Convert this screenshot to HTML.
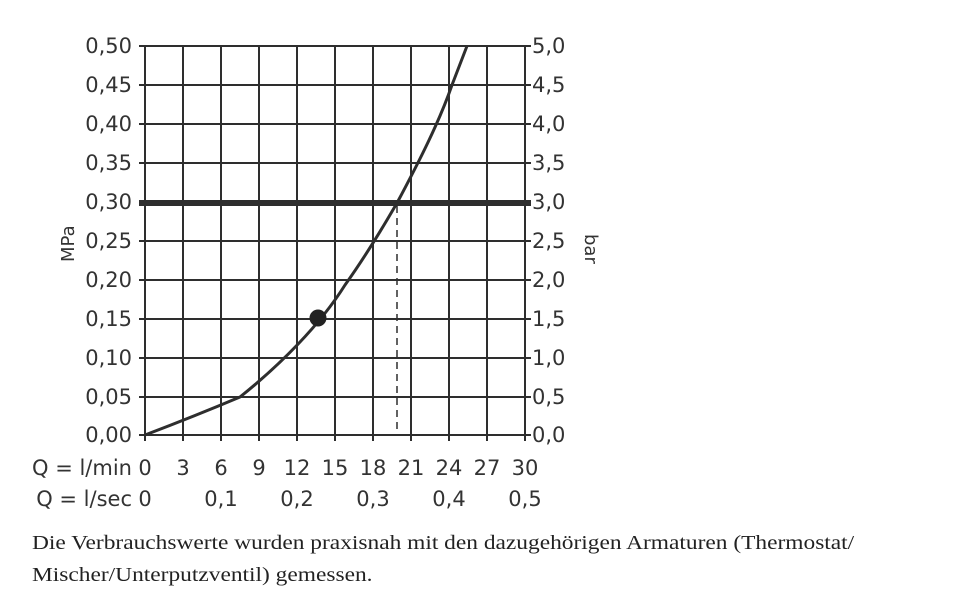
<!DOCTYPE html>
<html><head><meta charset="utf-8"><style>
body{margin:0;background:#fff;width:960px;height:612px;overflow:hidden}
svg text{font-family:"DejaVu Sans","Liberation Sans",sans-serif;fill:#333}
.cap{position:absolute;left:32px;font-family:"Liberation Serif",serif;font-size:20px;color:#222;transform-origin:0 0;transform:scaleX(1.17);white-space:nowrap}
</style></head><body>
<svg width="960" height="612" style="position:absolute;left:0;top:0">
<g stroke="#2e2e2e" stroke-width="2" fill="none">
<path d="M145 46V435M183 46V435M221 46V435M259 46V435M297 46V435M335 46V435M373 46V435M411 46V435M449 46V435M487 46V435M525 46V435"/>
<path d="M139 46H531M139 85H531M139 124H531M139 163H531M139 241H531M139 280H531M139 319H531M139 358H531M139 397H531M139 435H531"/>
<path d="M145 435v6M183 435v6M221 435v6M259 435v6M297 435v6M335 435v6M373 435v6M411 435v6M449 435v6M487 435v6M525 435v6"/>
<path d="M139 203H531" stroke-width="6"/>
<path d="M397 206V435" stroke-width="1.5" stroke-dasharray="7,5"/>
<path d="M145 435 Q195 416 240 397 C280 365 320 325 345 285 C370 250 390 215 397 203 C420 160 440 120 452 85 L467 46" stroke-width="3"/>
</g>
<circle cx="318" cy="318" r="8.5" fill="#222"/>
<g font-size="21" text-anchor="end">
<text x="132" y="53">0,50</text><text x="132" y="92">0,45</text><text x="132" y="131">0,40</text><text x="132" y="170">0,35</text><text x="132" y="209">0,30</text><text x="132" y="248">0,25</text><text x="132" y="287">0,20</text><text x="132" y="326">0,15</text><text x="132" y="365">0,10</text><text x="132" y="404">0,05</text><text x="132" y="442">0,00</text>
</g>
<g font-size="21">
<text x="532" y="53">5,0</text><text x="532" y="92">4,5</text><text x="532" y="131">4,0</text><text x="532" y="170">3,5</text><text x="532" y="209">3,0</text><text x="532" y="248">2,5</text><text x="532" y="287">2,0</text><text x="532" y="326">1,5</text><text x="532" y="365">1,0</text><text x="532" y="404">0,5</text><text x="532" y="442">0,0</text>
</g>
<text font-size="18" transform="translate(74,262) rotate(-90)">MPa</text>
<text font-size="18" transform="translate(585,234) rotate(90)">bar</text>
<g font-size="21" text-anchor="middle">
<text x="145" y="475">0</text><text x="183" y="475">3</text><text x="221" y="475">6</text><text x="259" y="475">9</text><text x="297" y="475">12</text><text x="335" y="475">15</text><text x="373" y="475">18</text><text x="411" y="475">21</text><text x="449" y="475">24</text><text x="487" y="475">27</text><text x="525" y="475">30</text>
<text x="145" y="506">0</text><text x="221" y="506">0,1</text><text x="297" y="506">0,2</text><text x="373" y="506">0,3</text><text x="449" y="506">0,4</text><text x="525" y="506">0,5</text>
</g>
<g font-size="21" text-anchor="end">
<text x="132" y="475">Q = l/min</text><text x="132" y="506">Q = l/sec</text>
</g>
</svg>
<div class="cap" style="top:532px">Die Verbrauchswerte wurden praxisnah mit den dazugehörigen Armaturen (Thermostat/</div>
<div class="cap" style="top:564px">Mischer/Unterputzventil) gemessen.</div>
</body></html>
